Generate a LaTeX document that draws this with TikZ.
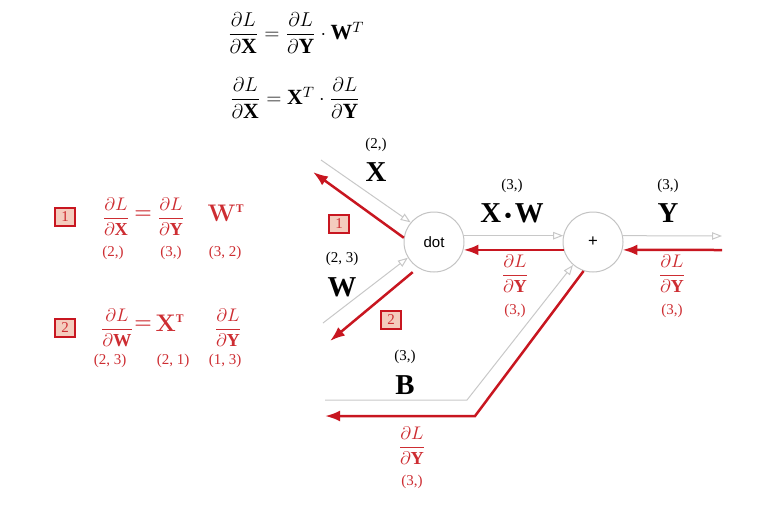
\documentclass[tikz,border=0pt]{standalone}
\usepackage{amsmath}
\usepackage{fontspec}
\setmainfont{Liberation Serif}
\newfontfamily\opfont{Liberation Sans}
\usepackage{tikz}
\usetikzlibrary{positioning, arrows.meta}
\definecolor{gradred}{RGB}{200,22,32}
\definecolor{gradtext}{RGB}{205,45,50}
\definecolor{linegray}{RGB}{200,200,200}
\definecolor{nodegray}{RGB}{195,195,195}
\definecolor{boxfill}{RGB}{244,204,190}

\tikzset{
  opnode/.style={circle, draw=nodegray, line width=0.6pt, fill=white, minimum size=36pt, inner sep=0pt, font=\opfont\small},
  fwd/.style={draw=linegray, line width=0.6pt, -{Triangle[open, length=6pt, width=4.5pt]}},
  bwd/.style={draw=gradred, line width=1.5pt, -{Latex[length=9pt, width=6.5pt]}},
  shapelbl/.style={font=\small},
  varlbl/.style={font=\LARGE\bfseries},
  gradlbl/.style={text=gradtext, font=\fontsize{11}{13}\selectfont},
  eqlbl/.style={font=\fontsize{13}{16}\selectfont},
  bigsym/.style={text=gradtext, font=\Large\boldmath},
  numbox/.style={draw=gradred, line width=1.3pt, fill=boxfill, text=gradtext, font=\small, minimum width=12pt, minimum height=11pt, inner sep=0pt}
}

\begin{document}
\begin{tikzpicture}[x=0.6pt, y=-0.6pt]
\useasboundingbox (0,0) rectangle (781,511);

% Formeln oben
\node[eqlbl] (eqone) at (296,33) {$\dfrac{\partial L}{\partial \mathbf{X}} = \dfrac{\partial L}{\partial \mathbf{Y}} \cdot \mathbf{W}^T$};
\node[eqlbl] (eqtwo) at (295,98) {$\dfrac{\partial L}{\partial \mathbf{X}} = \mathbf{X}^T \cdot \dfrac{\partial L}{\partial \mathbf{Y}}$};

% Knoten
\node[opnode] (dot) at (434,242) {dot};
\node[opnode, font=\opfont] (plus) at (593,242) {+};

% Endpunkte
\coordinate (xin) at (321,160);
\coordinate (xgrad) at (313,172);
\coordinate (win) at (323,323);
\coordinate (wgrad) at (330,341);
\coordinate (yout) at (722,236);
\coordinate (ygrad) at (722,250);
\coordinate (bin) at (325,400);
\coordinate (bbend) at (467,400);
\coordinate (bgbend) at (475,416);
\coordinate (bgrad) at (325,416);

% Vorwaerts
\draw[fwd] (xin) -- (dot.140);
\draw[fwd] (win) -- (dot.211);
\draw[fwd] (dot.12) -- (plus.168);
\draw[fwd] (plus.12) -- (yout);
\draw[fwd] (bin) -- (bbend) -- (plus.229);

% Rueckwaerts
\draw[bwd] (ygrad) -- (plus.-15);
\draw[bwd] (plus.195) -- (dot.-15);
\draw[bwd] (dot.172) -- (xgrad);
\draw[bwd, shorten <=4pt] (dot.238) -- (wgrad);
\draw[bwd] (plus.252) -- (bgbend) -- (bgrad);

% Beschriftungen schwarz
\node[shapelbl] (xshape) at (376,145) {(2,)};
\node[varlbl] (xname) at (376,172) {X};
\node[shapelbl] (wshape) at (342,259) {(2, 3)};
\node[varlbl] (wname) at (342,287) {W};
\node[shapelbl] (xwshape) at (512,186) {(3,)};
\node[varlbl] (xwname) at (512,213) {X{\large\,\textbullet\,}W};
\node[shapelbl] (yshape) at (668,186) {(3,)};
\node[varlbl] (yname) at (668,213) {Y};
\node[shapelbl] (bshape) at (405,357) {(3,)};
\node[varlbl] (bname) at (405,385) {B};

% Beschriftungen rot
\node[gradlbl] (gmid) at (515,274) {$\dfrac{\partial L}{\partial \mathbf{Y}}$};
\node[gradlbl, shapelbl] (gmidshape) at (515,311) {(3,)};
\node[gradlbl] (gright) at (672,274) {$\dfrac{\partial L}{\partial \mathbf{Y}}$};
\node[gradlbl, shapelbl] (grightshape) at (672,311) {(3,)};
\node[gradlbl] (gbias) at (412,446) {$\dfrac{\partial L}{\partial \mathbf{Y}}$};
\node[gradlbl, shapelbl] (gbiasshape) at (412,482) {(3,)};
\node[numbox] (boxone) at (339,224) {1};
\node[numbox] (boxtwo) at (391,320) {2};

% Formeln links
\node[numbox] (lboxone) at (65,217) {1};
\node[gradlbl] (ldx) at (116,217) {$\dfrac{\partial L}{\partial \mathbf{X}}$};
\node[bigsym, font=\large\boldmath] (leqone) at (143,215) {$=$};
\node[gradlbl] (ldyone) at (171,217) {$\dfrac{\partial L}{\partial \mathbf{Y}}$};
\node[bigsym] (lwt) at (226,213) {$\mathbf{W}^{\scriptscriptstyle\mathrm{T}}$};
\node[gradlbl, shapelbl] (ldxshape) at (113,253) {(2,)};
\node[gradlbl, shapelbl] (ldyoneshape) at (171,253) {(3,)};
\node[gradlbl, shapelbl] (lwtshape) at (225,253) {(3, 2)};

\node[numbox] (lboxtwo) at (65,328) {2};
\node[gradlbl] (ldw) at (117,328) {$\dfrac{\partial L}{\partial \mathbf{W}}$};
\node[bigsym, font=\large\boldmath] (leqtwo) at (143,325) {$=$};
\node[bigsym] (lxt) at (170,323) {$\mathbf{X}^{\scriptscriptstyle\mathrm{T}}$};
\node[gradlbl] (ldytwo) at (228,328) {$\dfrac{\partial L}{\partial \mathbf{Y}}$};
\node[gradlbl, shapelbl] (ldwshape) at (110,361) {(2, 3)};
\node[gradlbl, shapelbl] (lxtshape) at (173,361) {(2, 1)};
\node[gradlbl, shapelbl] (ldytwoshape) at (225,361) {(1, 3)};

\end{tikzpicture}
\end{document}
